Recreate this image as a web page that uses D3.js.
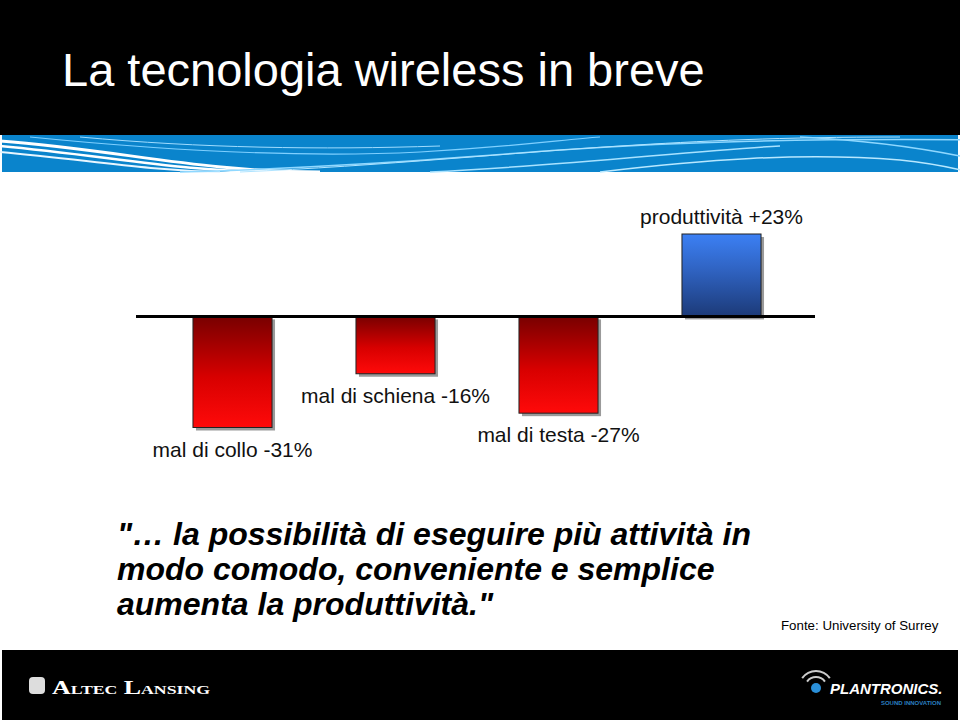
<!DOCTYPE html>
<html>
<head>
<meta charset="utf-8">
<script src="https://cdn.jsdelivr.net/npm/d3@7"></script>
<style>
  body { margin: 0; background: #fff; }
  svg { display: block; font-family: Arial, "Liberation Sans", sans-serif; }
</style>
</head>
<body>
<div id="chart"></div>
<script>
// Data
const categories = ["mal di collo", "mal di schiena", "mal di testa", "produttività"];
const values = [-31, -16, -27, 23];
const labels = ["mal di collo -31%", "mal di schiena -16%", "mal di testa -27%", "produttività +23%"];
const quoteLines = [
    "\"… la possibilità di eseguire più attività in",
    "modo comodo, conveniente e semplice",
    "aumenta la produttività.\""
];

const width = 960, height = 720;

const svg = d3.select('#chart')
    .append('svg')
    .attr('width', width)
    .attr('height', height);

const defs = svg.append('defs');

// gradients for the bars
const lgRed = defs.append('linearGradient')
    .attr('id', 'gradRed')
    .attr('x1', '0%').attr('x2', '0%')
    .attr('y1', '0%').attr('y2', '100%');
lgRed.append('stop').attr('offset', '0%').style('stop-color', '#780000');
lgRed.append('stop').attr('offset', '55%').style('stop-color', '#d80000');
lgRed.append('stop').attr('offset', '100%').style('stop-color', '#ff0a0a');

const lgBlue = defs.append('linearGradient')
    .attr('id', 'gradBlue')
    .attr('x1', '0%').attr('x2', '0%')
    .attr('y1', '0%').attr('y2', '100%');
lgBlue.append('stop').attr('offset', '0%').style('stop-color', '#3c80f4');
lgBlue.append('stop').attr('offset', '45%').style('stop-color', '#2f62c0');
lgBlue.append('stop').attr('offset', '100%').style('stop-color', '#1c3a78');

// header
svg.append('rect')
    .attr('x', 0).attr('y', 0)
    .attr('width', width).attr('height', 135)
    .attr('fill', '#000');

svg.append('text')
    .attr('x', 62).attr('y', 86)
    .attr('fill', '#fff')
    .style('font-size', '47px')
    .text('La tecnologia wireless in breve');

// blue wave band
const band = svg.append('g');
band.append('rect')
    .attr('x', 2).attr('y', 135)
    .attr('width', width - 4).attr('height', 37)
    .attr('fill', '#0a84cc');

const waves = [
    { d: 'M0,141 C120,150 200,172 320,172', w: 3, c: '#ffffff' },
    { d: 'M0,146 C110,156 180,172 280,172', w: 2.5, c: '#ffffff' },
    { d: 'M0,152 C90,160 140,170 220,172', w: 2, c: '#e8f6ff' },
    { d: 'M30,137 C160,150 300,158 420,152 C520,146 560,140 600,137', w: 1.2, c: '#7fd0ff' },
    { d: 'M80,137 C200,148 320,150 440,146', w: 1, c: '#9fdcff' },
    { d: 'M180,172 C330,168 450,158 560,150 C680,142 800,138 1000,140', w: 1.5, c: '#8fd8ff' },
    { d: 'M240,172 C380,166 520,152 620,146 C700,141 780,137 900,137', w: 1, c: '#b0e4ff' },
    { d: 'M430,172 C560,166 700,150 780,146', w: 1.5, c: '#a8e2ff' },
    { d: 'M600,172 C700,160 800,152 900,160 C940,164 960,170 970,172', w: 1.5, c: '#b8e8ff' },
    { d: 'M800,137 C860,140 920,148 960,156', w: 1.5, c: '#8fd8ff' }
];
band.selectAll('path')
    .data(waves)
    .enter()
    .append('path')
    .attr('d', d => d.d)
    .attr('fill', 'none')
    .attr('stroke', d => d.c)
    .attr('stroke-width', d => d.w);

// scales
const x = d3.scaleBand()
    .domain(categories)
    .range([151, 803])
    .paddingInner(0.515)
    .paddingOuter(0.2575);

const y = d3.scaleLinear()
    .domain([-31, 23])
    .range([427.5, 234]);

const data = categories.map((c, i) => ({ cat: c, value: values[i], label: labels[i] }));

// shadows
svg.selectAll('.shadow')
    .data(data)
    .enter()
    .append('rect')
    .attr('class', 'shadow')
    .attr('x', d => x(d.cat) + 3)
    .attr('y', d => Math.min(y(d.value), y(0)) + 3)
    .attr('width', x.bandwidth())
    .attr('height', d => Math.abs(y(d.value) - y(0)))
    .attr('fill', '#9a9a9a');

// bars
svg.selectAll('.bar')
    .data(data)
    .enter()
    .append('rect')
    .attr('class', 'bar')
    .attr('x', d => x(d.cat))
    .attr('y', d => Math.min(y(d.value), y(0)))
    .attr('width', x.bandwidth())
    .attr('height', d => Math.abs(y(d.value) - y(0)))
    .attr('fill', d => d.value < 0 ? 'url(#gradRed)' : 'url(#gradBlue)')
    .attr('stroke', '#222')
    .attr('stroke-width', 1);

// zero line
svg.append('line')
    .attr('x1', 136).attr('x2', 815)
    .attr('y1', y(0)).attr('y2', y(0))
    .attr('stroke', '#000')
    .attr('stroke-width', 3);

// bar labels
svg.selectAll('.label')
    .data(data)
    .enter()
    .append('text')
    .attr('class', 'label')
    .attr('x', d => x(d.cat) + x.bandwidth() / 2)
    .attr('y', d => d.value < 0 ? y(d.value) + 29 : y(d.value) - 10)
    .attr('text-anchor', 'middle')
    .attr('fill', '#111')
    .style('font-size', '21px')
    .text(d => d.label);

// quote
svg.selectAll('.quote')
    .data(quoteLines)
    .enter()
    .append('text')
    .attr('class', 'quote')
    .attr('x', 117)
    .attr('y', (d, i) => 545 + i * 35)
    .attr('fill', '#000')
    .style('font-size', '32px')
    .style('font-weight', 'bold')
    .style('font-style', 'italic')
    .text(d => d);

svg.append('text')
    .attr('x', 781).attr('y', 630)
    .attr('fill', '#000')
    .style('font-size', '13.3px')
    .text('Fonte: University of Surrey');

// footer
svg.append('rect')
    .attr('x', 2).attr('y', 650)
    .attr('width', width - 4).attr('height', 70)
    .attr('fill', '#000');

// Altec Lansing logo
const altec = svg.append('g');
altec.append('rect')
    .attr('x', 29).attr('y', 677)
    .attr('width', 16).attr('height', 17)
    .attr('rx', 4)
    .attr('fill', '#ddd');
altec.append('text')
    .attr('x', 52).attr('y', 694)
    .attr('fill', '#fff')
    .attr('textLength', 158)
    .attr('lengthAdjust', 'spacingAndGlyphs')
    .style('font-family', '"Liberation Serif", "DejaVu Serif", serif')
    .style('font-weight', 'bold')
    .style('font-size', '19px')
    .style('font-variant', 'small-caps')
    .text('Altec Lansing');

// Plantronics logo
const plan = svg.append('g');
plan.append('circle')
    .attr('cx', 816).attr('cy', 688)
    .attr('r', 5)
    .attr('fill', '#2a8fd8');
[10, 16].forEach(r => {
    plan.append('path')
        .attr('d', d3.arc()({ innerRadius: r, outerRadius: r + 2, startAngle: -0.95, endAngle: 0.95 }))
        .attr('transform', 'translate(816,688)')
        .attr('fill', '#ccc');
});
plan.append('text')
    .attr('x', 830).attr('y', 694)
    .attr('fill', '#fff')
    .style('font-weight', 'bold')
    .style('font-style', 'italic')
    .style('font-size', '15px')
    .text('PLANTRONICS.');
plan.append('text')
    .attr('x', 941).attr('y', 705)
    .attr('text-anchor', 'end')
    .attr('fill', '#2a7fc0')
    .style('font-size', '6px')
    .style('font-weight', 'bold')
    .text('SOUND INNOVATION');
</script>
</body>
</html>
